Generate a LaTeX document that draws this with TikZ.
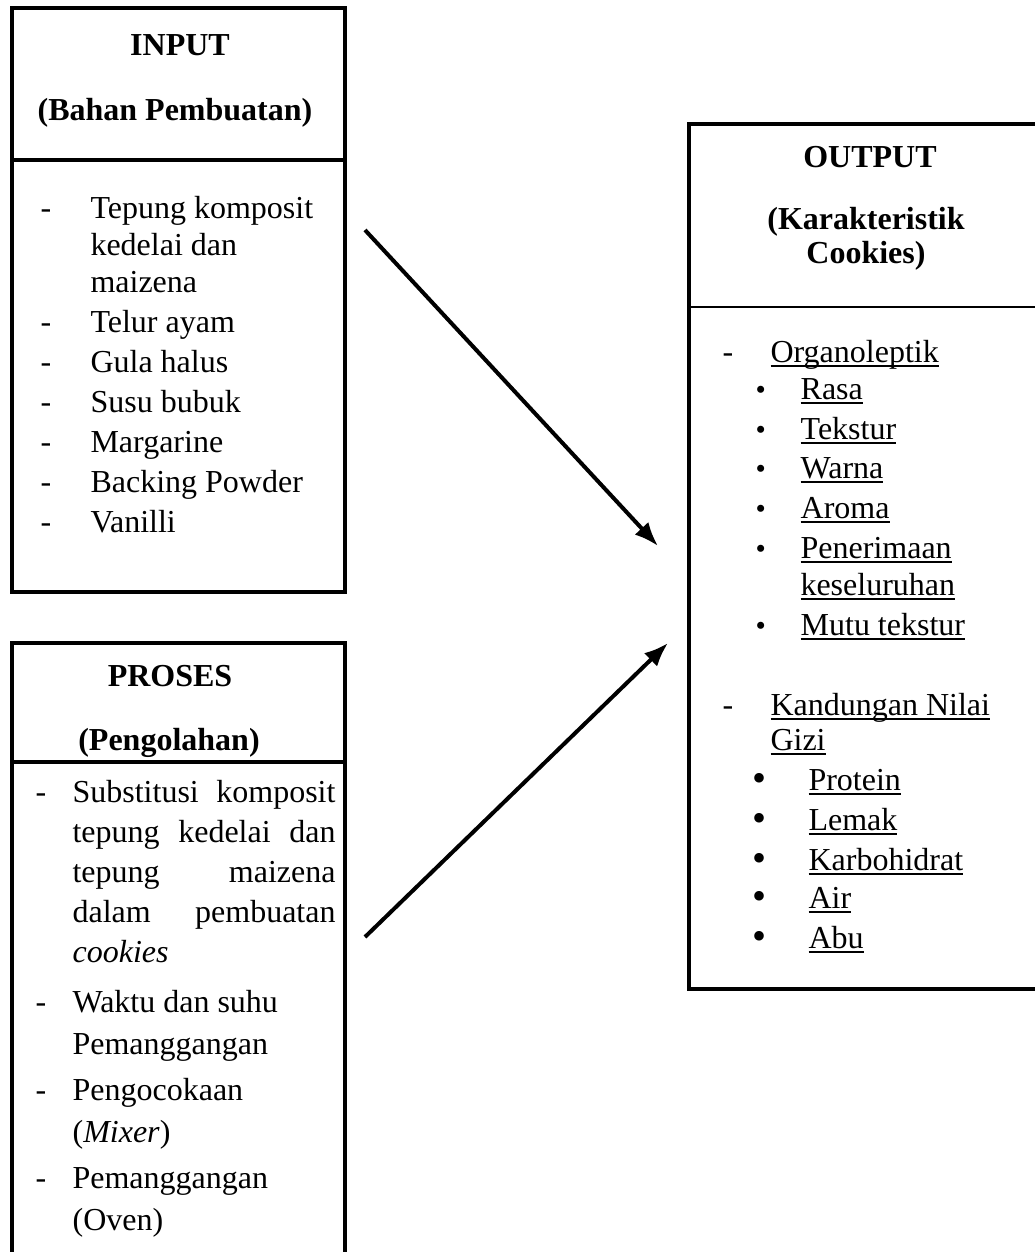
\documentclass[tikz,border=0pt]{standalone}
\usepackage{fontspec}
\setmainfont{Liberation Serif}
\usetikzlibrary{arrows.meta,fit}

% list markers and underline
\newcommand{\inmark}{\makebox[18.75pt][l]{-}}
\newcommand{\inpad}{\hspace*{18.75pt}}
\newcommand{\prmark}{\makebox[13.9pt][l]{-}}
\newcommand{\prpad}{\hspace*{13.9pt}}
\newcommand{\prjust}[1]{\makebox[98.6pt][s]{#1}}
\newcommand{\outmark}{\makebox[18pt][l]{-}}
\newcommand{\smallbul}{\hspace*{12.4pt}\makebox[16.9pt][l]{\fontsize{11}{11}\selectfont\textbullet}}
\newcommand{\bigbul}{\hspace*{11.25pt}\makebox[21pt][l]{\raisebox{-0.6pt}{\fontsize{15}{15}\selectfont\textbullet}}}
\newsavebox{\undlbox}
\newcommand{\undl}[1]{\sbox{\undlbox}{#1}\rlap{\rule[-2pt]{\wd\undlbox}{0.75pt}}\usebox{\undlbox}}

\tikzset{
  boxframe/.style={draw,line width=1.5pt,inner sep=0pt},
  divline/.style={line width=1.3pt},
  headtext/.style={font=\fontsize{12}{14}\selectfont\bfseries,anchor=base,inner sep=0pt},
  listtext/.style={align=left,anchor=base west,inner sep=0pt},
  flowarrow/.style={-{Latex[length=9pt,width=7pt]},line width=1.5pt}
}

\begin{document}
\begin{tikzpicture}[x=0.375pt,y=-0.375pt]
\useasboundingbox (0,0) rectangle (1035,1252);

% input (list anchored at its last baseline)
\node[boxframe,fit={(12,8) (345,592)}] (inbox) {};
\draw[divline] (inbox.west |- 0,160) -- (inbox.east |- 0,160);
\node[headtext] (intitle) at (180,55) {INPUT};
\node[headtext] (insub) at (175,120) {(Bahan Pembuatan)};
\node[listtext,font=\fontsize{12}{13.7}\selectfont] (inlist) at (40,532) {%
  \inmark Tepung komposit\\
  \inpad kedelai dan\\
  \inpad maizena\\[1.3pt]
  \inmark Telur ayam\\[1.3pt]
  \inmark Gula halus\\[1.3pt]
  \inmark Susu bubuk\\[1.3pt]
  \inmark Margarine\\[1.3pt]
  \inmark Backing Powder\\[1.3pt]
  \inmark Vanilli};

% proses
\node[boxframe,fit={(12,643) (345,1275)}] (prbox) {};
\draw[divline] (prbox.west |- 0,762) -- (prbox.east |- 0,762);
\node[headtext] (prtitle) at (170,686) {PROSES};
\node[headtext] (prsub) at (169,750) {(Pengolahan)};
\node[listtext,font=\fontsize{12}{15}\selectfont] (prlist) at (35,1230) {%
  \prmark\prjust{Substitusi komposit}\\
  \prpad\prjust{tepung kedelai dan}\\
  \prpad\prjust{tepung maizena}\\
  \prpad\prjust{dalam pembuatan}\\
  \prpad\textit{cookies}\\[3.75pt]
  \prmark Waktu dan suhu\\[0.75pt]
  \prpad Pemanggangan\\[1.9pt]
  \prmark Pengocokaan\\[1.1pt]
  \prpad(\textit{Mixer})\\[1.9pt]
  \prmark Pemanggangan\\[0.75pt]
  \prpad(Oven)};

% output
\node[boxframe,fit={(689,124) (1045,989)}] (outbox) {};
\draw[line width=0.6pt] (outbox.west |- 0,307) -- (outbox.east |- 0,307);
\node[headtext] (outtitle) at (870,167) {OUTPUT};
\node[headtext] (outsub) at (866,229) {(Karakteristik};
\node[headtext] (outsub2) at (866,263) {Cookies)};
\node[listtext,font=\fontsize{12}{15}\selectfont] (outlist) at (722,948) {%
  \outmark\undl{Organoleptik}\\[-1.1pt]
  \smallbul\undl{Rasa}\\
  \smallbul\undl{Tekstur}\\[-0.4pt]
  \smallbul\undl{Warna}\\
  \smallbul\undl{Aroma}\\
  \smallbul\undl{Penerimaan}\\[-1.1pt]
  \hspace*{29.25pt}\undl{keseluruhan}\\
  \smallbul\undl{Mutu tekstur}\\[15pt]
  \outmark\undl{Kandungan Nilai}\\[-1.9pt]
  \hspace*{18pt}\undl{Gizi}\\
  \bigbul\undl{Protein}\\
  \bigbul\undl{Lemak}\\
  \bigbul\undl{Karbohidrat}\\[-0.75pt]
  \bigbul\undl{Air}\\
  \bigbul\undl{Abu}};

% arrows
\coordinate (a1s) at (365,230);
\coordinate (a1e) at (658,546);
\coordinate (a2s) at (365,937);
\coordinate (a2e) at (668,643);
\draw[flowarrow] (a1s) -- (a1e);
\draw[flowarrow] (a2s) -- (a2e);
\end{tikzpicture}
\end{document}
